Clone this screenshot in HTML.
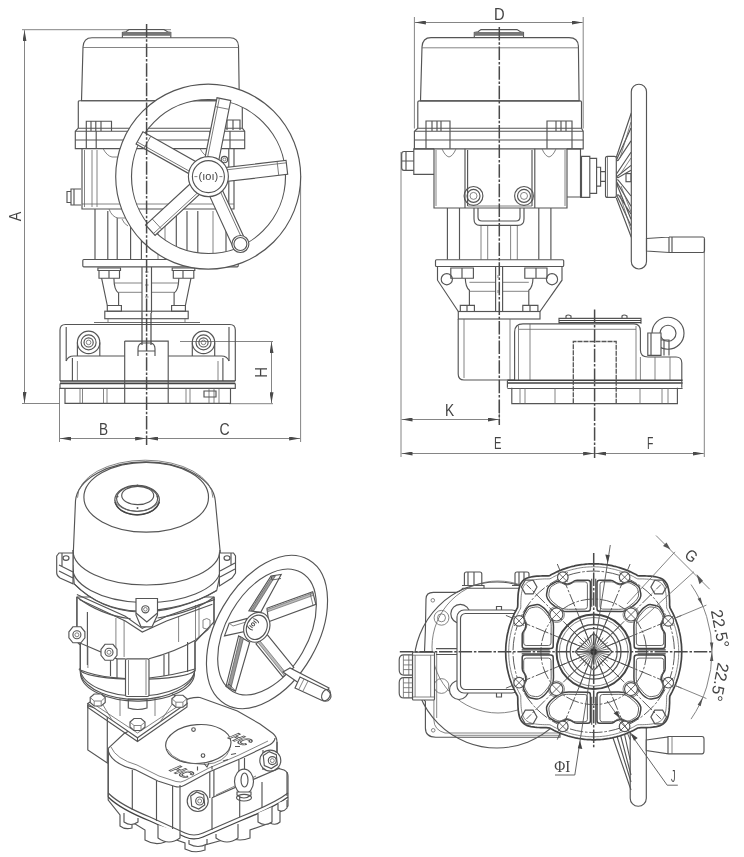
<!DOCTYPE html>
<html><head><meta charset="utf-8"><style>
html,body{margin:0;padding:0;background:#fff;width:744px;height:857px;overflow:hidden}
svg{display:block;will-change:transform}
.s{stroke:#555;stroke-width:1.15;fill:none}
.w{stroke:#555;stroke-width:1.15;fill:#fff}
.t{stroke:#666;stroke-width:.8;fill:none}
.l{stroke:#999;stroke-width:.7;fill:none}
.d{stroke:#777;stroke-width:.9;fill:none}
.c{stroke:#4a4a4a;stroke-width:1.5;fill:none;stroke-dasharray:13.5 1.8 2.5 1.8}
.k{stroke:#444;stroke-width:1.6;fill:none}
.tx{font-family:"Liberation Sans",sans-serif;font-size:16px;fill:#444}
</style></head><body>
<svg width="744" height="857" viewBox="0 0 744 857">
<defs>
<marker id="a" viewBox="0 0 11 4" refX="11" refY="2" markerWidth="11" markerHeight="4" orient="auto-start-reverse" markerUnits="userSpaceOnUse"><path d="M0 0 L11 2 L0 4z" fill="#4a4a4a"/></marker>
</defs>

<!-- ================= TOP-LEFT VIEW ================= -->
<g id="TL">
<!-- dimensions -->
<path class="d" d="M22 29.7H171M22 403.5H60M59.5 388V442M300.6 176V442M180 341.5H273M229 403.7H273"/>
<path class="d" d="M24.5 30.2V403" marker-start="url(#a)" marker-end="url(#a)"/>
<path class="d" d="M60 438.5H146.1" marker-start="url(#a)" marker-end="url(#a)"/>
<path class="d" d="M147.1 438.5H300.1" marker-start="url(#a)" marker-end="url(#a)"/>
<path class="d" d="M271.5 342V403.2" marker-start="url(#a)" marker-end="url(#a)"/>
<text class="tx" transform="translate(20.8 216.35) rotate(-90) scale(.9 1)" text-anchor="middle">A</text>
<text class="tx" transform="translate(103.5 434.8) scale(.85 1)" text-anchor="middle">B</text>
<text class="tx" transform="translate(224.5 434.8) scale(.88 1)" text-anchor="middle">C</text>
<text class="tx" transform="translate(266.8 372.35) rotate(-90) scale(.93 1)" text-anchor="middle">H</text>

<!-- cap -->
<path class="s" d="M122.4 37.7V32.5L126 31.8L129 29.5H164L167.5 31.8L170.8 32.5V37.7"/>
<rect x="122.5" y="32" width="48.3" height="3.8" fill="#777"/>
<!-- cover -->
<path class="s" d="M81.5 100.7L83 47Q83.5 37.7 92 37.7H230Q238 37.7 238.5 46L239.3 100.7Z"/>
<path class="t" d="M83 47.5H238.5"/>
<!-- lower band -->
<path class="s" d="M78.3 128.2V101.5Q78.3 100.7 80 100.7H241Q242.3 100.7 242.3 102V128.2H78.3"/>
<!-- small blocks -->
<path class="s" d="M86.3 131V121.2H111.5V131M91 121.2V131M95.8 121.2V131M101 121.2V131"/>
<path class="s" d="M222 130V120H240V130M227 120V130M233 120V130"/>
<!-- flange -->
<path class="s" d="M78.3 128.2L75.3 131.2V148.6H244.7V131.2L242.3 128.2M75.3 131.2H244.7"/>
<path class="s" d="M75.3 140H244.7M86.3 131V148.6M96.2 131V148.6M210 131V148.6M230 131V148.6"/>
<!-- gearbox body -->
<path class="s" d="M82 148.6V209H234V148.6M228.8 148.6V209"/>
<path class="t" d="M84.5 150V207M92 150V207M97 150V207"/>
<path class="t" d="M103 148.5Q107 156 112 157H118Q123 157 125 148.5"/>
<path class="t" d="M200 148.5Q204 156 209 157H214Q219 157 221 148.5"/>
<path class="t" d="M82 204H234"/>
<!-- left bolt -->
<path class="s" d="M81 189H71V205H81M71 191.5H67V202.5H71M74 189V205"/>
<!-- column -->
<path class="s" d="M95 209V259.5M226 209V259.5"/>
<path class="s" d="M107.8 211V259.5M117.2 218V259.5M130.6 222V259.5M141.4 222V259.5M176.3 211V259.5M187 211V259.5M197.8 211V259.5"/><path class="t" d="M158 215V259M165 215V259M213 211V259"/>
<path class="t" d="M109 209Q112 217 118 218H125"/>
<path class="t" d="M122 219Q124 224 128 226"/>
<!-- plate -->
<rect class="s" x="82.8" y="259.5" width="155.4" height="7.3" rx="1"/>
<!-- nuts -->
<path class="s" d="M97.9 268H120.5V270.5H97.9ZM99 270.5V278.2H119.5V270.5M109 270.5V278.2"/>
<path class="s" d="M172.2 268H194.8V270.5H172.2ZM173.3 270.5V278.2H193.8V270.5M183 270.5V278.2"/>
<!-- legs -->
<path class="s" d="M101.6 278.2L107.3 305.5M113.9 278.2Q114 290 118.6 293V305.5"/>
<path class="s" d="M191 278.2L185.4 305.5M178.8 278.2Q178.7 290 174.1 293V305.5"/>
<path class="t" d="M114 283H142M151.5 283H179M118.6 292.3H142M151.5 292.3H174.1"/>
<!-- shaft -->
<path class="s" d="M142 267V313M151.5 267V313"/>
<path class="t" d="M145 272H148.5M145 285H148.5M145 297H148.5"/>
<!-- lower nuts -->
<path class="s" d="M107.3 305.5H121.4V311.2H107.3ZM171.6 305.5H185.4V311.2H171.6Z"/>
<!-- bracket bottom plate -->
<rect class="s" x="104.8" y="311.2" width="83.4" height="7.5"/>
<path class="t" d="M108 318.7V322.5M185 318.7V322.5"/>
<path class="t" d="M94 322.5H200"/>
<!-- base gearbox -->
<path class="s" d="M60 381V330Q60 324.5 65.5 324.5H229.8Q235.3 324.5 235.3 330V381"/>
<path class="s" d="M66.2 327V361M229 327V361"/>
<path class="s" d="M66.2 361Q68 356 73.7 356H124.7M168.2 356H221.5Q227 356 229 361M72.4 358V381M222.9 358V381"/>
<path class="k" d="M60 381H235.3M60 383.4H235.3"/>
<path class="s" d="M60 383.4V388.4H235.3V383.4"/>
<path class="s" d="M65 388.4V403.3H230.5V388.4"/>
<path class="t" d="M80 388.4V403.3M82.5 388.4V403.3M103.5 388.4V403.3M107 388.4V403.3M186 388.4V403.3M190 388.4V403.3M209 388.4V403.3M214 388.4V403.3M219 388.4V403.3M77.4 361V381M218 361V381"/>
<path class="s" d="M204 391H216V397H204Z"/>
<path class="t" d="M94 322.5H200"/>
<!-- center rect -->
<path class="s" d="M124.7 341.1H168.2V403.3M124.7 341.1V403.3"/>
<path style="stroke:#444" class="s" d="M142 313V345M151 313V345"/>
<path class="s" d="M138 356V349Q138 344 142 343H151Q155 344 155 349V356M138 351H155"/>
<!-- bosses -->
<circle class="s" cx="88.6" cy="342.4" r="11.2"/><circle class="s" cx="88.6" cy="342.4" r="7.5"/><circle class="s" cx="88.6" cy="342.4" r="4.6"/><circle class="t" cx="88.6" cy="342.4" r="2.3"/>
<circle class="s" cx="203.5" cy="342.4" r="11.2"/><circle class="s" cx="203.5" cy="342.4" r="7.5"/><circle class="s" cx="203.5" cy="342.4" r="4.6"/><circle class="t" cx="203.5" cy="342.4" r="2.3"/>
<path class="s" d="M77.4 342.4V356M99.8 342.4V356M192.3 342.4V356M214.7 342.4V356"/>
<!-- handwheel -->
<g>
<path class="w" fill-rule="evenodd" d="M115.7 176.6a92.5 92.5 0 1 0 185 0a92.5 92.5 0 1 0 -185 0ZM131.5 176.5a77 77 0 1 0 154 0a77 77 0 1 0 -154 0Z"/>
<g transform="translate(208.4 176.6)">
 <g transform="rotate(-78.7)"><path class="w" d="M18 -7H79V7H18Z"/><path class="t" d="M70 -7V7M19 -4.6H79"/></g>
 <g transform="rotate(-6.7)"><path class="w" d="M18 -7H79V7H18Z"/><path class="t" d="M70 -7V7M19 -4.6H79"/></g>
 <g transform="rotate(65.3)"><path class="w" d="M18 -7H72V7H18Z"/><path class="t" d="M19 -4.6H72"/></g>
 <g transform="rotate(137.3)"><path class="w" d="M18 -7H79V7H18Z"/><path class="t" d="M70 -7V7M19 -4.6H79"/></g>
 <g transform="rotate(209.3)"><path class="w" d="M18 -7H79V7H18Z"/><path class="t" d="M70 -7V7M19 -4.6H79"/></g>
 <circle class="w" r="20"/><circle class="s" r="16"/>
 <text x="0" y="3.8" text-anchor="middle" font-family="Liberation Sans" font-size="11" fill="#444">(ıoı)</text><path class="t" d="M-14 0H-11M11 0H14"/>
</g>
<circle class="s" cx="224.4" cy="159.5" r="3.2"/><circle class="t" cx="224.4" cy="159.5" r="1.5"/>
<circle class="w" cx="240.4" cy="244" r="8.5"/><circle class="s" cx="240.4" cy="244" r="6.5"/>
</g>
<path class="c" d="M146.6 24V445"/>
</g>

<!-- ================= TOP-RIGHT VIEW ================= -->
<g id="TR">
<!-- dimensions -->
<path class="d" d="M414.4 17V128.5M583.2 17V128.5M401 152V457M704.3 239V457M499.3 400V423"/>
<path class="d" d="M414.9 22.5H582.7" marker-start="url(#a)" marker-end="url(#a)"/>
<path class="d" d="M401.5 419.5H498.8" marker-start="url(#a)" marker-end="url(#a)"/>
<path class="d" d="M401.5 453.5H594.1" marker-start="url(#a)" marker-end="url(#a)"/>
<path class="d" d="M595.1 453.5H703.8" marker-start="url(#a)" marker-end="url(#a)"/>
<text class="tx" transform="translate(499.2 19.9) scale(.92 1)" text-anchor="middle">D</text>
<text class="tx" transform="translate(449.5 415.7) scale(.86 1)" text-anchor="middle">K</text>
<text class="tx" transform="translate(497.8 448.5) scale(.7 1)" text-anchor="middle">E</text>
<text class="tx" transform="translate(650.1 448.5) scale(.65 1)" text-anchor="middle">F</text>
<!-- cap -->
<path class="s" d="M474.3 37.6V32.5L478 31.8L481 29.6H517L520.5 31.8L523.5 32.5V37.6"/>
<rect x="474.4" y="32" width="49" height="3.8" fill="#777"/>
<!-- cover -->
<path class="s" d="M420.5 100.8L422 47Q422.5 37.6 431 37.6H569Q578 37.6 578.4 46L579.1 100.8Z"/>
<path class="t" d="M422 47.8H578.4"/>
<!-- lower band -->
<path class="s" d="M417.8 128.2V102Q417.8 100.8 419.5 100.8H580Q581.5 100.8 581.5 102V128.2H417.8"/>
<path class="s" d="M426 131V121H450V131M432 121V131M437 121V131M441 121V131"/>
<path class="s" d="M547 131V121H572V131M556 121V131M561 121V131M566 121V131"/>
<!-- flange -->
<path class="s" d="M417.8 128.2L414.4 131.2V148.8H583.2V131.2L581.5 128.2M414.4 131.2H583.2"/>
<path class="s" d="M414.4 140H583.2M426 131V148.8M450 131V148.8M547 131V148.8M572 131V148.8"/>
<!-- gearbox body -->
<path class="s" d="M434 148.8V208H567V148.8"/>
<path class="s" d="M465 148.8V208M467.6 150V206M532 150V206M534.8 148.8V208"/>
<path class="t" d="M436 150V206M565 150V206M467.6 206H532"/>
<path class="t" d="M442 148.8Q445 156 449 157Q453 156 456 148.8M542 148.8Q545 156 549 157Q553 156 556 148.8"/>
<!-- left box + gland -->
<path class="s" d="M434 148.8H413.8V174.4H434"/>
<path class="s" d="M413.8 151.5H404Q401.7 151.5 401.7 154V168Q401.7 170.3 404 170.3H413.8M406 151.5V170.3M401.7 161H413.8"/>
<!-- right box + shaft -->
<path class="s" d="M567 148.8H580.5V197H567"/>
<path class="s" d="M580.1 156.3H589.8V197.4H580.1M581.5 156.3V197.4M589.8 158.3H596.6V193.4H589.8M596.6 167.2H600.6V186.1H596.6M600.6 171.6H605.5V181.3H600.6"/>
<!-- bosses -->
<circle class="s" cx="473.5" cy="195.9" r="9.4"/><circle class="s" cx="473.5" cy="195.9" r="6.5"/><circle class="t" cx="473.5" cy="195.9" r="3.5"/>
<circle class="s" cx="524" cy="195.9" r="9.4"/><circle class="s" cx="524" cy="195.9" r="6.5"/><circle class="t" cx="524" cy="195.9" r="3.5"/>
<!-- column -->
<path class="s" d="M447.4 208V259.6M550.9 208V259.6M459.5 208V259.6M538.8 208V259.6"/>
<path class="t" d="M481 225V259.6M487.7 225V259.6M510.6 225V259.6M517.3 225V259.6"/>
<path class="s" d="M474 208V219Q474 225.4 480 225.4H518Q524 225.4 524 219V208M478 208V217Q478 221 482 221H516Q520 221 520 217V208"/>
<!-- plate -->
<rect class="s" x="435.5" y="259.7" width="128.2" height="6.8" rx="1"/>
<!-- bracket -->
<path class="s" d="M437.5 266.5V280.2L458.3 311.5M562 266.5V280.2L540 311.5"/>
<circle class="s" cx="446.8" cy="279.2" r="5.6"/><circle class="s" cx="552" cy="279.2" r="5.6"/>
<path class="s" d="M450.8 268H473.4V278.2H450.8ZM462 268V278.2M524.8 268H547V278.2H524.8ZM536 268V278.2"/>
<path class="s" d="M465.3 278.2Q465.5 287 469.4 290.3V305.4M533 278.2Q532.8 287 528.8 290.3V305.4"/>
<path class="t" d="M469.4 282.3H495.6M502.6 282.3H528.8M469.4 291.3H495.6M502.6 291.3H528.8"/>
<path class="s" d="M460.3 305.4H474.4V311.5H460.3ZM522.8 305.4H537.9V311.5H522.8ZM467 305.4V311.5M530 305.4V311.5"/>
<path class="s" d="M495.6 267V311.5M502.6 267V311.5"/>
<path class="t" d="M498 275V278M498 290V293"/>
<rect class="s" x="458.3" y="311.5" width="81.7" height="7.5"/>
<!-- lower box -->
<path class="s" d="M458.2 319V374Q458.2 380 464 380H514.6"/>
<path class="t" d="M464 319V378M510 319V380"/>
<!-- base gearbox -->
<path class="s" d="M514.6 380V332Q514.6 323.8 523 323.8H634Q640.4 323.8 640.4 331V350Q640.4 357 648 357H676Q681.8 357 681.8 363V380.3"/>
<path class="t" d="M518.5 326V380M530 324V380M636 326V380M640.4 357V380.3M655 357V380.3M670 357V380.3"/>
<path class="s" d="M559 323.8V318.4H641V323.8M566 318.4V316Q568 314 571 316V318.4M622 318.4V316Q624 314 627 316V318.4"/><path class="k" style="stroke-width:1.2" d="M559 320.5H641M559 322.6H641"/><path class="t" d="M519 329.3H636"/>
<path class="k" d="M507.4 380.3H682.6M507.4 383H682.6"/><path class="s" d="M507.4 388.5H682.6"/>
<path class="s" d="M507.4 380.8V387.7M681.8 380.8V387.7"/>
<path class="s" d="M511.8 387.7V403.6H677.4V387.7"/>
<path class="t" d="M520 388V403.6M525 388V403.6M555 388V403.6M640 388V403.6M662 388V403.6M668 388V403.6"/>
<path style="stroke-dasharray:5 1;stroke-width:1.3" class="s" d="M573.3 403.3V341.5H616.2V403.3"/>
<!-- eye bolt -->
<circle class="s" cx="668" cy="333.2" r="16"/><circle class="w" cx="668" cy="333.2" r="8"/>
<path class="w" d="M647.8 333H661V355.4H647.8Z"/>
<path class="s" d="M651 333V355.4M661 340H669V355.4M664 340V355.4"/>
<!-- handwheel side -->
<path class="s" d="M616.3 157.2L631.3 113M616.3 198L631.3 237.3"/>
<path class="s" d="M631 127.9L616.8 159.2Q616.5 161 618 160.5L631 140.9M631 152.3L616.5 174Q615.8 177.5 618 177.7L631 170.3M631 165.4L617 176.5"/>
<path class="s" d="M631 206.2L616.5 181.5Q616 179 618 180L631 196M631 219.3L616.5 183.5M631 225.8L617.3 196.4Q616.5 194.5 618.5 195L631 214"/>
<path class="t" d="M620 158L631 122M621 173L631 158M621 186L631 212M620 195L631 230"/>
<rect class="w" x="605.5" y="156.3" width="10.8" height="41.1" rx="2"/><path class="t" d="M607.5 157V197"/>
<rect class="s" x="626" y="173.6" width="5" height="8.1"/>
<rect class="w" x="631.3" y="84.2" width="15.2" height="184.8" rx="7.6"/>
<path class="s" d="M646.5 238.5L669 237V252.5L646.5 251ZM669 237H703Q704.5 237 704.5 239V250.5Q704.5 252.5 703 252.5H669M672 237V252.5"/>
<path class="c" d="M499.3 27V425"/>
<path class="c" d="M594.6 309.6V458"/>
</g>

<!-- ================= BOTTOM-LEFT ISO VIEW ================= -->
<g id="BL">
<!-- base gearbox (drawn first, behind) -->
<path class="w" d="M108.2 748.4L123.8 733.8L183 701.5Q190 697 200 697.5L237.4 711L260 724L273 733.5Q277 737 277 742V768L284 770Q288 772 288 776V806L280 812V822Q276 826 270 823L250 830V838Q240 842 230 838L205 845V850Q195 854 185 849V843L165 836V842Q155 846 145 840V830L132 822V828Q125 830 120 826V815L108.2 800Z"/>
<!-- top-left/front rounded edge -->
<path class="s" d="M108.2 750.8Q112 764 135 769.6L157.8 781L175 786.5Q180 788 185 785L209 772L239.7 759L270.3 744.5Q275 741 275 738"/>
<path class="t" d="M111 747Q116 759 137 765L159 776L176 781.5Q181 783 185 780.5L209 768L239 755L268 741"/>
<path class="s" d="M108.2 793Q120 805 150 817L185 833Q194 837 203 833L240 817Q275 803 288 793"/>
<path style="stroke-width:1.3" class="k" d="M108.2 797Q120 809 150 821L185 837Q194 841 203 837L240 821Q275 807 288 797"/>
<path class="s" d="M108.2 748.4V797M132.3 770V810M156.5 781V821M172.6 786V829M180 785V832M209.8 772V798M213.9 770V797M238.9 760V780M244.5 758V781M263 750V770"/>
<path class="s" d="M212 797.7L255.8 778.4L280 768M212 797.7V830M239.7 790V817M262 782V808M277 742V768M287 772V796"/>
<path class="t" d="M216 795L256 776"/>
<!-- feet -->
<path class="w" d="M124 813V822Q131 827 138 822V818"/>
<path class="w" d="M158 825V838Q169 846 180 838V832"/>
<path class="w" d="M189 840V844Q198 849 207 844V839"/>
<path class="w" d="M216 834V838Q227 846 238 838V824"/>
<path class="w" d="M258 813V822Q265 827 272 822V807"/>
<path class="w" d="M278 803V810Q283 813 287 808V800"/>
<!-- round plate -->
<ellipse class="w" cx="198.3" cy="744" rx="32.7" ry="19.4" transform="rotate(-4 198.3 744)"/>
<path class="t" d="M167 749Q175 764 205 764.5Q225 763 230 749"/>
<circle class="s" cx="193.5" cy="729.5" r="1.8"/><circle class="s" cx="203" cy="755.5" r="1.8"/>
<path class="s" d="M204 763.5L207 767L209 763"/>
<text x="0" y="0" transform="translate(227 737.5) rotate(27) skewX(-40)" font-family="Liberation Sans" font-size="13" font-weight="bold" fill="#fff" stroke="#555" stroke-width="1">HC</text>
<text x="0" y="0" transform="translate(168.5 770) rotate(27) skewX(-40)" font-family="Liberation Sans" font-size="13" font-weight="bold" fill="#fff" stroke="#555" stroke-width="1">HC</text>
<path class="s" d="M235 746.5H240M231 754.5L236 753.5M223 761L228 759.5M197.5 766.6V770.6M212 766V769.5"/>
<!-- nuts on base -->
<g transform="translate(197.7 801)"><circle class="w" r="10.5"/><path class="s" d="M-7 -5L-1 -9L6 -6L7 4L1 8L-6 5Z"/><circle class="s" cx="2" r="4"/><circle class="t" cx="2" r="2"/></g>
<g transform="translate(270.3 760.6)"><circle class="w" r="10.5"/><path class="s" d="M-7 -5L-1 -9L6 -6L7 4L1 8L-6 5Z"/><circle class="s" cx="2" r="4"/><circle class="t" cx="2" r="2"/></g>
<!-- eye bolt -->
<ellipse class="w" cx="244" cy="781.6" rx="9.5" ry="12.5"/><ellipse class="s" cx="244.5" cy="780" rx="3.5" ry="7"/>
<path class="w" d="M237 795Q244 801 251 795V792H237Z"/><ellipse class="s" cx="244" cy="797.7" rx="7.5" ry="3.3"/>
<!-- lower box under bracket -->
<path class="w" d="M87.8 705.6V750L107.3 763V712Z"/>
<!-- bracket diamond -->
<path class="w" d="M87.8 703.6L137.5 672L187 703L137.5 737.7Z"/>
<path class="s" d="M87.8 703.6V707.5L137.5 741.5L187 707V703M137.5 737.7V741.5"/>
<path class="t" d="M93 703.6L137.5 733L182 703.5"/>
<path class="t" d="M100 700L112 720M175 700L160 722M120 688V716M155 688V716"/>
<g transform="translate(137.5 724)"><path class="w" d="M-7.5 -2L-3.5 -5.5H3.5L7.5 -2V3L3.5 6.5H-3.5L-7.5 3Z"/><path class="t" d="M-7.5 -2L-3.5 1.5H3.5L7.5 -2M-3.5 1.5V6.5M3.5 1.5V6.5"/></g>
<g transform="translate(179.4 700.7)"><path class="w" d="M-7.5 -2L-3.5 -5.5H3.5L7.5 -2V3L3.5 6.5H-3.5L-7.5 3Z"/><path class="t" d="M-7.5 -2L-3.5 1.5H3.5L7.5 -2M-3.5 1.5V6.5M3.5 1.5V6.5"/></g>
<!-- neck + disc -->
<path class="w" d="M79.4 669Q80 668 80.6 674.8A57.5 30 0 0 0 194.5 672L195 669Z"/>
<path class="s" d="M80.3 670A57.5 28 0 0 0 195 670M80.6 674.8A57 28 0 0 0 194.5 673"/>
<!-- body -->
<path class="w" d="M76.9 597V641.7L80.3 645V670A57.5 10 0 0 0 195 670V642L214 622V597Z"/>
<path class="s" d="M80.3 670Q95 676 113.3 677.6L125.5 678.5M149 678Q175 675 195 669"/>
<path class="s" d="M76.9 597V641.7L117 658.8H125.5M149 658.8Q175 652 194.8 640.6L208.5 629M214 597V625"/>
<rect class="w" x="125.5" y="658.8" width="23.5" height="37.7" rx="1.5"/>
<path class="t" d="M128.5 660V695M146 660V695"/>
<path class="s" d="M80.3 643V670M195 641V669M87.4 612V665M110.5 654V676M117 659V678M164 655V676M168.8 653V675M187.6 642V672"/>
<path class="t" d="M115.9 618V655M124.1 620V657M178.6 616V642M87.9 646V668M195.5 605V640M199 604V638"/>
<path class="s" d="M76.9 594.5L125.3 616.3L142.3 628.4L166.5 616.3L214.9 599.4M79.4 599.4L125.3 621.1L142.3 632L166.5 621L212.4 604.2"/>
<path class="t" d="M203 620Q207 617 210 620V628Q207 630 203 628Z"/>
<path class="s" d="M128.3 699H147V708Q137.7 711 128.3 708Z"/>
<g transform="translate(97.7 699.5)"><path class="w" d="M-7.5 -2L-3.5 -5.5H3.5L7.5 -2V3L3.5 6.5H-3.5L-7.5 3Z"/><path class="t" d="M-7.5 -2L-3.5 1.5H3.5L7.5 -2M-3.5 1.5V6.5M3.5 1.5V6.5"/></g>
<!-- cover -->
<path class="w" d="M75.5 500.7A70 41 0 0 1 215.3 500.7L220 550L221 570L216.7 590.5Q180 612 138.7 612Q100 610 74.2 583.8L72.8 565Z"/>
<ellipse class="s" cx="146.2" cy="497.2" rx="62.3" ry="34.9"/>
<path class="t" d="M77.5 497.7A67.7 37.5 0 0 1 212.9 497.7"/>
<path class="s" d="M72.8 550A73.5 35 0 0 0 220 550M72.8 565A74 35 0 0 0 220.7 570"/>
<path class="s" d="M74.2 583.8Q100 610 138.7 611Q185 610 216.7 590.5"/>
<path class="s" d="M76.9 597Q100 615 130.6 618.7M157.5 618Q195 612 214 597"/>
<!-- ears -->
<path class="w" d="M56.7 556L59 553H73V583.8L60 578Q56.7 576 56.7 573Z"/>
<path class="s" d="M59 565L73 572M59 571L73 578M62 553V566"/>
<ellipse class="s" cx="66" cy="558" rx="3" ry="2.3"/>
<path class="w" d="M219.4 553H233.5L235.5 556V573L232 578L219.4 586Z"/>
<path class="s" d="M220 571L235 563M220 577L235 569M231 553V565"/>
<ellipse class="s" cx="227" cy="558" rx="3" ry="2.3"/>
<path class="w" d="M136 598.5H157.5V615L152 626.8H141L136 615Z"/>
<circle class="s" cx="145.4" cy="609.3" r="3.6"/><circle class="t" cx="145.4" cy="609.3" r="1.8"/>
<path class="s" d="M136 613L146.8 622L157.5 613"/>
<!-- cap -->
<ellipse class="w" cx="137.1" cy="500" rx="22.3" ry="14.8"/>
<ellipse class="s" cx="137.1" cy="498.5" rx="20.5" ry="12.8"/>
<ellipse class="s" cx="137.7" cy="495.5" rx="16" ry="9.2"/>
<path style="stroke-width:1.3" class="k" d="M115 502Q119 514 137.1 514.8Q155 514 159.4 502"/>
<path class="t" d="M114.8 500Q118 510 137.1 511.5Q156 510 159.4 500"/>
<circle fill="#555" cx="137.5" cy="485.5" r="1"/><circle fill="#555" cx="117.5" cy="496.5" r="1"/><circle fill="#555" cx="157.5" cy="496.5" r="1"/><circle fill="#555" cx="137.5" cy="508" r="1"/>
<!-- nuts on body -->
<g transform="translate(76.9 634.8)"><path class="w" d="M-8 -3L-4 -8H4L8 -3V3L4 8H-4L-8 3Z"/><circle class="s" r="4"/><circle class="t" r="2"/></g>
<g transform="translate(109 652.3)"><path class="w" d="M-8 -3L-4 -8H4L8 -3V3L4 8H-4L-8 3Z"/><circle class="s" r="4"/><circle class="t" r="2"/></g>
<!-- wheel -->
<g transform="translate(267 632) rotate(-60)">
<path class="w" fill-rule="evenodd" d="M-83.3 0A83.3 50.7 0 1 0 83.3 0A83.3 50.7 0 1 0 -83.3 0ZM-68.6 0A68.6 40.9 0 1 0 68.6 0A68.6 40.9 0 1 0 -68.6 0Z"/>
</g>
<path class="w" d="M267 608.3L312.7 591.8L315.9 604.4L268.6 621.7Z"/>
<path fill="#bbb" stroke="#555" stroke-width=".6" d="M267.2 609.5L313 592.9L313.5 595.3L267.6 611.8Z"/><path class="t" d="M310 592.8L313 605.3"/>
<path class="w" d="M248.9 610.7L271 576L281.2 574.5L260.7 612.3Z"/>
<path fill="#999" stroke="#444" stroke-width=".6" d="M250.5 610.3L272.3 576.2L275.5 575.8L253.6 610.8Z"/><path style="stroke:#444" class="t" d="M271 576L272 580L281 578.5"/>
<path class="w" d="M246.5 618.6L229.2 623.3L224.5 635.9L245.7 631.2Z"/>
<path class="t" d="M229.2 623.3L233 626L246 622"/>
<path class="w" d="M238.6 635.9L226 686.4L235.5 691.1L249.7 642.2Z"/>
<path fill="#999" stroke="#444" stroke-width=".6" d="M240.3 636.6L227.6 687.2L230.8 688.7L243.5 638.2Z"/><path style="stroke:#444" class="t" d="M226 686.4L229 684L235.5 691.1"/>
<path class="w" d="M256 643.8L282.8 676.9L293.8 667.4L267 634.3Z"/>
<path fill="#bbb" stroke="#555" stroke-width=".6" d="M257.5 642L284.3 675.6L286.5 673.7L259.7 640.5Z"/>
<ellipse class="w" cx="256.8" cy="627.3" rx="12.6" ry="15.4" transform="rotate(25 256.8 627.3)"/>
<ellipse class="s" cx="256.8" cy="627.3" rx="10" ry="12.6" transform="rotate(25 256.8 627.3)"/>
<text x="0" y="0" transform="translate(250.5 630.5) rotate(-50) scale(1 1.1)" font-family="Liberation Sans" font-size="7" font-weight="bold" fill="#444">(ıoı)</text>
<path class="w" d="M283 672L290 668L329 688L323 700Z"/>
<path class="w" d="M300 677L327 690Q333 694 330 699Q327 703 321 700L295 688Z"/>
<path class="t" d="M304 679L299 689M308 681L303 691"/>
<ellipse class="s" cx="326" cy="695" rx="4" ry="6" transform="rotate(25 326 695)"/>
</g>

<!-- ================= BOTTOM-RIGHT VIEW ================= -->
<g id="BR">
<rect class="w" x="630.2" y="700" width="16.1" height="106.2" rx="8"/>
<path class="s" d="M612 735L631 790M616 733L631 782M620 733L631 775M624 732L630.2 760"/>
<path class="w" d="M646.3 740L668 737V753.8L646.3 750.5ZM668 736.5H702Q704 736.5 704 739V751Q704 753.8 702 753.8H668Z"/>
<path class="t" d="M672 736.5V753.8"/>
<path class="w" d="M426 599Q426 592.3 433.4 592.3H456.3Q459 592.3 463 588.2H560V737.2H435.8Q425.4 737.2 425.4 728V701.4L424.5 700.5V652L425.4 630Z"/>
<path class="t" d="M433.9 655V720Q434 730 445 733H560M436.7 652V718M452.7 735.3H560"/>
<circle class="t" cx="432.8" cy="600.3" r="1.8"/><circle class="t" cx="433.2" cy="730.3" r="1.8"/>
<path class="s" d="M464.4 585.5V574Q464.4 572 466.5 572H479.8Q481.8 572 481.8 574V585.5ZM468 572V585.5M474 572V585.5M462 585.5H484V588.2"/>
<path class="s" d="M515 585.5V574Q515 572 517 572H527Q529 572 529 574V585.5ZM519 572V585.5M524 572V585.5M512 585.5H531V588.2"/>
<circle class="s" cx="497" cy="665" r="83"/>
<circle class="t" cx="498" cy="647" r="66"/>
<circle class="w" cx="460.3" cy="613.8" r="9.5"/><circle class="t" cx="441.5" cy="617.8" r="7.4"/><circle class="t" cx="441.5" cy="617.8" r="4"/>
<circle class="w" cx="459" cy="690" r="9.5"/><circle class="t" cx="441.5" cy="686" r="7.4"/>
<rect class="w" x="457" y="610" width="62" height="83" rx="7"/>
<rect class="s" x="460.5" y="613.5" width="58" height="76" rx="5"/>
<path class="s" d="M496.5 610V606.5H501.5V610M496.5 693V697H501.5V693"/>
<path class="s" d="M436 648.6H457M436 654.5H457"/>
<path class="t" d="M440 651.5H452"/>
<rect class="w" x="412.5" y="652.1" width="22" height="47.9" rx="1"/>
<path class="t" d="M412.5 655.2H434.5M412.5 697H434.5M415.1 655.2V697M430.7 655.2V697"/>
<path class="w" d="M412.5 654.8H404Q399.2 654.8 399.2 659.8V670.0999999999999Q399.2 675.0999999999999 404 675.0999999999999H412.5Z"/>
<path class="t" d="M403.4 655.3V674.5999999999999M408.8 654.8V675.0999999999999M403.4 660.0999999999999H412.5M403.4 664.9H412.5M403.4 669.5999999999999H412.5"/>
<path class="w" d="M412.5 677.6H404Q399.2 677.6 399.2 682.6V692.9Q399.2 697.9 404 697.9H412.5Z"/>
<path class="t" d="M403.4 678.1V697.4M408.8 677.6V697.9M403.4 682.9H412.5M403.4 687.7H412.5M403.4 692.4H412.5"/>
<path style="stroke-width:1.7;stroke:#444" class="w" d="M681.7 651.8 L681.7 653.3 L681.6 654.9 L681.6 656.4 L681.5 657.9 L681.4 659.5 L681.2 661.0 L681.0 662.5 L680.8 664.0 L680.6 665.6 L680.4 667.1 L680.1 668.6 L679.8 670.1 L679.4 671.6 L679.1 673.1 L678.7 674.6 L678.3 676.1 L677.9 677.5 L677.4 679.0 L676.9 680.4 L676.4 681.9 L675.9 683.3 L675.3 684.8 L674.7 686.2 L674.1 687.6 L673.5 689.0 L672.8 690.4 L672.1 691.8 L671.4 693.1 L670.7 694.5 L669.9 695.8 L669.7 697.4 L669.6 699.2 L669.6 701.1 L669.6 703.0 L669.5 704.9 L669.4 706.8 L669.3 708.7 L669.1 710.7 L668.8 712.6 L668.5 714.6 L668.0 716.4 L667.5 718.2 L666.7 719.9 L665.7 721.4 L664.6 722.7 L663.3 723.8 L661.8 724.8 L660.1 725.6 L658.3 726.1 L656.5 726.6 L654.5 726.9 L652.6 727.2 L650.6 727.4 L648.7 727.5 L646.8 727.6 L644.9 727.7 L643.0 727.7 L641.1 727.7 L639.3 727.8 L637.7 728.0 L636.4 728.8 L635.0 729.5 L633.7 730.2 L632.3 730.9 L630.9 731.6 L629.5 732.2 L628.1 732.8 L626.7 733.4 L625.2 734.0 L623.8 734.5 L622.3 735.0 L620.9 735.5 L619.4 736.0 L618.0 736.4 L616.5 736.8 L615.0 737.2 L613.5 737.5 L612.0 737.9 L610.5 738.2 L609.0 738.5 L607.5 738.7 L605.9 738.9 L604.4 739.1 L602.9 739.3 L601.4 739.5 L599.8 739.6 L598.3 739.7 L596.8 739.7 L595.2 739.8 L593.7 739.8 L592.2 739.8 L590.6 739.7 L589.1 739.7 L587.6 739.6 L586.0 739.5 L584.5 739.3 L583.0 739.1 L581.5 738.9 L579.9 738.7 L578.4 738.5 L576.9 738.2 L575.4 737.9 L573.9 737.5 L572.4 737.2 L570.9 736.8 L569.4 736.4 L568.0 736.0 L566.5 735.5 L565.1 735.0 L563.6 734.5 L562.2 734.0 L560.7 733.4 L559.3 732.8 L557.9 732.2 L556.5 731.6 L555.1 730.9 L553.7 730.2 L552.4 729.5 L551.0 728.8 L549.7 728.0 L548.1 727.8 L546.3 727.7 L544.4 727.7 L542.5 727.7 L540.6 727.6 L538.7 727.5 L536.8 727.4 L534.8 727.2 L532.9 726.9 L530.9 726.6 L529.1 726.1 L527.3 725.6 L525.6 724.8 L524.1 723.8 L522.8 722.7 L521.7 721.4 L520.7 719.9 L519.9 718.2 L519.4 716.4 L518.9 714.6 L518.6 712.6 L518.3 710.7 L518.1 708.7 L518.0 706.8 L517.9 704.9 L517.8 703.0 L517.8 701.1 L517.8 699.2 L517.7 697.4 L517.5 695.8 L516.7 694.5 L516.0 693.1 L515.3 691.8 L514.6 690.4 L513.9 689.0 L513.3 687.6 L512.7 686.2 L512.1 684.8 L511.5 683.3 L511.0 681.9 L510.5 680.4 L510.0 679.0 L509.5 677.5 L509.1 676.1 L508.7 674.6 L508.3 673.1 L508.0 671.6 L507.6 670.1 L507.3 668.6 L507.0 667.1 L506.8 665.6 L506.6 664.0 L506.4 662.5 L506.2 661.0 L506.0 659.5 L505.9 657.9 L505.8 656.4 L505.8 654.9 L505.7 653.3 L505.7 651.8 L505.7 650.3 L505.8 648.7 L505.8 647.2 L505.9 645.7 L506.0 644.1 L506.2 642.6 L506.4 641.1 L506.6 639.6 L506.8 638.0 L507.0 636.5 L507.3 635.0 L507.6 633.5 L508.0 632.0 L508.3 630.5 L508.7 629.0 L509.1 627.5 L509.5 626.1 L510.0 624.6 L510.5 623.2 L511.0 621.7 L511.5 620.3 L512.1 618.8 L512.7 617.4 L513.3 616.0 L513.9 614.6 L514.6 613.2 L515.3 611.8 L516.0 610.5 L516.7 609.1 L517.5 607.8 L517.7 606.2 L517.8 604.4 L517.8 602.5 L517.8 600.6 L517.9 598.7 L518.0 596.8 L518.1 594.9 L518.3 592.9 L518.6 591.0 L518.9 589.0 L519.4 587.2 L519.9 585.4 L520.7 583.7 L521.7 582.2 L522.8 580.9 L524.1 579.8 L525.6 578.8 L527.3 578.0 L529.1 577.5 L530.9 577.0 L532.9 576.7 L534.8 576.4 L536.8 576.2 L538.7 576.1 L540.6 576.0 L542.5 575.9 L544.4 575.9 L546.3 575.9 L548.1 575.8 L549.7 575.6 L551.0 574.8 L552.4 574.1 L553.7 573.4 L555.1 572.7 L556.5 572.0 L557.9 571.4 L559.3 570.8 L560.7 570.2 L562.2 569.6 L563.6 569.1 L565.1 568.6 L566.5 568.1 L568.0 567.6 L569.4 567.2 L570.9 566.8 L572.4 566.4 L573.9 566.1 L575.4 565.7 L576.9 565.4 L578.4 565.1 L579.9 564.9 L581.5 564.7 L583.0 564.5 L584.5 564.3 L586.0 564.1 L587.6 564.0 L589.1 563.9 L590.6 563.9 L592.2 563.8 L593.7 563.8 L595.2 563.8 L596.8 563.9 L598.3 563.9 L599.8 564.0 L601.4 564.1 L602.9 564.3 L604.4 564.5 L605.9 564.7 L607.5 564.9 L609.0 565.1 L610.5 565.4 L612.0 565.7 L613.5 566.1 L615.0 566.4 L616.5 566.8 L618.0 567.2 L619.4 567.6 L620.9 568.1 L622.3 568.6 L623.8 569.1 L625.2 569.6 L626.7 570.2 L628.1 570.8 L629.5 571.4 L630.9 572.0 L632.3 572.7 L633.7 573.4 L635.0 574.1 L636.4 574.8 L637.7 575.6 L639.3 575.8 L641.1 575.9 L643.0 575.9 L644.9 575.9 L646.8 576.0 L648.7 576.1 L650.6 576.2 L652.6 576.4 L654.5 576.7 L656.5 577.0 L658.3 577.5 L660.1 578.0 L661.8 578.8 L663.3 579.8 L664.6 580.9 L665.7 582.2 L666.7 583.7 L667.5 585.4 L668.0 587.2 L668.5 589.0 L668.8 591.0 L669.1 592.9 L669.3 594.9 L669.4 596.8 L669.5 598.7 L669.6 600.6 L669.6 602.5 L669.6 604.4 L669.7 606.2 L669.9 607.8 L670.7 609.1 L671.4 610.5 L672.1 611.8 L672.8 613.2 L673.5 614.6 L674.1 616.0 L674.7 617.4 L675.3 618.8 L675.9 620.3 L676.4 621.7 L676.9 623.2 L677.4 624.6 L677.9 626.1 L678.3 627.5 L678.7 629.0 L679.1 630.5 L679.4 632.0 L679.8 633.5 L680.1 635.0 L680.4 636.5 L680.6 638.0 L680.8 639.6 L681.0 641.1 L681.2 642.6 L681.4 644.1 L681.5 645.7 L681.6 647.2 L681.6 648.7 L681.7 650.3Z"/>
<path class="t" d="M678.7 651.8 L678.7 653.3 L678.6 654.8 L678.6 656.2 L678.5 657.7 L678.4 659.2 L678.2 660.7 L678.1 662.2 L677.9 663.6 L677.7 665.1 L677.4 666.6 L677.1 668.0 L676.8 669.5 L676.5 670.9 L676.2 672.4 L675.8 673.8 L675.4 675.2 L675.0 676.7 L674.5 678.1 L674.1 679.5 L673.6 680.9 L673.1 682.3 L672.5 683.6 L671.9 685.0 L671.4 686.4 L670.7 687.7 L670.1 689.1 L669.4 690.4 L668.8 691.7 L668.0 693.0 L667.3 694.3 L666.7 695.6 L666.6 697.4 L666.6 699.1 L666.6 700.9 L666.5 702.8 L666.4 704.6 L666.3 706.5 L666.1 708.4 L665.9 710.2 L665.5 712.1 L665.1 713.9 L664.5 715.6 L663.8 717.2 L662.9 718.6 L661.8 719.9 L660.5 721.0 L659.1 721.9 L657.5 722.6 L655.8 723.2 L654.0 723.6 L652.1 724.0 L650.3 724.2 L648.4 724.4 L646.5 724.5 L644.7 724.6 L642.8 724.7 L641.0 724.7 L639.3 724.7 L637.5 724.8 L636.2 725.4 L634.9 726.1 L633.6 726.9 L632.3 727.5 L631.0 728.2 L629.6 728.8 L628.3 729.5 L626.9 730.0 L625.5 730.6 L624.2 731.2 L622.8 731.7 L621.4 732.2 L620.0 732.6 L618.6 733.1 L617.1 733.5 L615.7 733.9 L614.3 734.3 L612.8 734.6 L611.4 734.9 L609.9 735.2 L608.5 735.5 L607.0 735.8 L605.5 736.0 L604.1 736.2 L602.6 736.3 L601.1 736.5 L599.6 736.6 L598.1 736.7 L596.7 736.7 L595.2 736.8 L593.7 736.8 L592.2 736.8 L590.7 736.7 L589.3 736.7 L587.8 736.6 L586.3 736.5 L584.8 736.3 L583.3 736.2 L581.9 736.0 L580.4 735.8 L578.9 735.5 L577.5 735.2 L576.0 734.9 L574.6 734.6 L573.1 734.3 L571.7 733.9 L570.3 733.5 L568.8 733.1 L567.4 732.6 L566.0 732.2 L564.6 731.7 L563.2 731.2 L561.9 730.6 L560.5 730.0 L559.1 729.5 L557.8 728.8 L556.4 728.2 L555.1 727.5 L553.8 726.9 L552.5 726.1 L551.2 725.4 L549.9 724.8 L548.1 724.7 L546.4 724.7 L544.6 724.7 L542.7 724.6 L540.9 724.5 L539.0 724.4 L537.1 724.2 L535.3 724.0 L533.4 723.6 L531.6 723.2 L529.9 722.6 L528.3 721.9 L526.9 721.0 L525.6 719.9 L524.5 718.6 L523.6 717.2 L522.9 715.6 L522.3 713.9 L521.9 712.1 L521.5 710.2 L521.3 708.4 L521.1 706.5 L521.0 704.6 L520.9 702.8 L520.8 700.9 L520.8 699.1 L520.8 697.4 L520.7 695.6 L520.1 694.3 L519.4 693.0 L518.6 691.7 L518.0 690.4 L517.3 689.1 L516.7 687.7 L516.0 686.4 L515.5 685.0 L514.9 683.6 L514.3 682.3 L513.8 680.9 L513.3 679.5 L512.9 678.1 L512.4 676.7 L512.0 675.2 L511.6 673.8 L511.2 672.4 L510.9 670.9 L510.6 669.5 L510.3 668.0 L510.0 666.6 L509.7 665.1 L509.5 663.6 L509.3 662.2 L509.2 660.7 L509.0 659.2 L508.9 657.7 L508.8 656.2 L508.8 654.8 L508.7 653.3 L508.7 651.8 L508.7 650.3 L508.8 648.8 L508.8 647.4 L508.9 645.9 L509.0 644.4 L509.2 642.9 L509.3 641.4 L509.5 640.0 L509.7 638.5 L510.0 637.0 L510.3 635.6 L510.6 634.1 L510.9 632.7 L511.2 631.2 L511.6 629.8 L512.0 628.4 L512.4 626.9 L512.9 625.5 L513.3 624.1 L513.8 622.7 L514.3 621.3 L514.9 620.0 L515.5 618.6 L516.0 617.2 L516.7 615.9 L517.3 614.5 L518.0 613.2 L518.6 611.9 L519.4 610.6 L520.1 609.3 L520.7 608.0 L520.8 606.2 L520.8 604.5 L520.8 602.7 L520.9 600.8 L521.0 599.0 L521.1 597.1 L521.3 595.2 L521.5 593.4 L521.9 591.5 L522.3 589.7 L522.9 588.0 L523.6 586.4 L524.5 585.0 L525.6 583.7 L526.9 582.6 L528.3 581.7 L529.9 581.0 L531.6 580.4 L533.4 580.0 L535.3 579.6 L537.1 579.4 L539.0 579.2 L540.9 579.1 L542.7 579.0 L544.6 578.9 L546.4 578.9 L548.1 578.9 L549.9 578.8 L551.2 578.2 L552.5 577.5 L553.8 576.7 L555.1 576.1 L556.4 575.4 L557.8 574.8 L559.1 574.1 L560.5 573.6 L561.9 573.0 L563.2 572.4 L564.6 571.9 L566.0 571.4 L567.4 571.0 L568.8 570.5 L570.3 570.1 L571.7 569.7 L573.1 569.3 L574.6 569.0 L576.0 568.7 L577.5 568.4 L578.9 568.1 L580.4 567.8 L581.9 567.6 L583.3 567.4 L584.8 567.3 L586.3 567.1 L587.8 567.0 L589.3 566.9 L590.7 566.9 L592.2 566.8 L593.7 566.8 L595.2 566.8 L596.7 566.9 L598.1 566.9 L599.6 567.0 L601.1 567.1 L602.6 567.3 L604.1 567.4 L605.5 567.6 L607.0 567.8 L608.5 568.1 L609.9 568.4 L611.4 568.7 L612.8 569.0 L614.3 569.3 L615.7 569.7 L617.1 570.1 L618.6 570.5 L620.0 571.0 L621.4 571.4 L622.8 571.9 L624.2 572.4 L625.5 573.0 L626.9 573.6 L628.3 574.1 L629.6 574.8 L631.0 575.4 L632.3 576.1 L633.6 576.7 L634.9 577.5 L636.2 578.2 L637.5 578.8 L639.3 578.9 L641.0 578.9 L642.8 578.9 L644.7 579.0 L646.5 579.1 L648.4 579.2 L650.3 579.4 L652.1 579.6 L654.0 580.0 L655.8 580.4 L657.5 581.0 L659.1 581.7 L660.5 582.6 L661.8 583.7 L662.9 585.0 L663.8 586.4 L664.5 588.0 L665.1 589.7 L665.5 591.5 L665.9 593.4 L666.1 595.2 L666.3 597.1 L666.4 599.0 L666.5 600.8 L666.6 602.7 L666.6 604.5 L666.6 606.2 L666.7 608.0 L667.3 609.3 L668.0 610.6 L668.8 611.9 L669.4 613.2 L670.1 614.5 L670.7 615.9 L671.4 617.2 L671.9 618.6 L672.5 620.0 L673.1 621.3 L673.6 622.7 L674.1 624.1 L674.5 625.5 L675.0 626.9 L675.4 628.4 L675.8 629.8 L676.2 631.2 L676.5 632.7 L676.8 634.1 L677.1 635.6 L677.4 637.0 L677.7 638.5 L677.9 640.0 L678.1 641.4 L678.2 642.9 L678.4 644.4 L678.5 645.9 L678.6 647.4 L678.6 648.8 L678.7 650.3Z"/>
<path style="stroke-width:1.2" class="s" d="M537.0 587.0 L533.1 593.8 L525.3 593.8 L521.4 587.0 L525.3 580.2 L533.1 580.2Z"/>
<path style="stroke-width:1.2" class="s" d="M666.5 587.0 L662.6 593.8 L654.8 593.8 L650.9 587.0 L654.8 580.2 L662.6 580.2Z"/>
<path style="stroke-width:1.2" class="s" d="M537.0 717.0 L533.1 723.8 L525.3 723.8 L521.4 717.0 L525.3 710.2 L533.1 710.2Z"/>
<path style="stroke-width:1.2" class="s" d="M666.5 717.0 L662.6 723.8 L654.8 723.8 L650.9 717.0 L654.8 710.2 L662.6 710.2Z"/>
<path style="stroke-width:1.5;stroke:#444" class="s" d="M599.5 611.3 L599.5 611.3 Q597.0 611.3 597.0 608.8 L597.0 582.8 Q597.0 580.3 599.5 580.3 L610.2 580.3 Q612.7 580.3 614.5 581.8 L614.5 581.8 Q616.2 583.3 618.7 583.7 L619.2 583.9 Q621.7 584.3 623.8 583.0 L624.6 582.6 Q626.7 581.3 628.7 581.3 L628.7 581.3 Q630.7 581.3 632.9 582.6 L637.1 585.1 Q639.3 586.4 639.8 588.9 L640.8 594.0 Q641.3 596.5 639.9 598.6 L638.7 600.4 Q637.3 602.5 635.3 604.1 L629.2 608.9 Q627.2 610.5 624.7 610.9 L623.6 611.2 Q621.1 611.6 618.6 611.6Z"/>
<path style="stroke-width:.9" class="s" d="M602.5 609.1 L602.5 609.1 Q600.0 609.0 600.0 606.5 L600.0 584.3 Q600.0 581.8 602.5 581.8 L611.4 581.8 Q613.9 581.8 615.4 583.1 L615.4 583.1 Q616.9 584.4 619.4 584.8 L619.4 584.8 Q621.8 585.3 623.9 584.0 L624.0 583.9 Q626.2 582.6 627.9 582.6 L627.9 582.6 Q629.7 582.6 631.8 583.9 L635.1 585.9 Q637.3 587.1 637.8 589.6 L638.5 593.6 Q639.0 596.0 637.6 598.1 L636.9 599.2 Q635.5 601.3 633.5 602.8 L628.6 606.8 Q626.6 608.3 624.2 608.8 L623.7 608.9 Q621.2 609.3 618.8 609.3Z"/>
<path style="stroke-width:1.5;stroke:#444" class="s" d="M587.9 611.3 L587.9 611.3 Q590.4 611.3 590.4 608.8 L590.4 582.8 Q590.4 580.3 587.9 580.3 L577.2 580.3 Q574.7 580.3 573.0 581.8 L573.0 581.8 Q571.2 583.3 568.7 583.7 L568.2 583.9 Q565.7 584.3 563.6 583.0 L562.8 582.6 Q560.7 581.3 558.7 581.3 L558.7 581.3 Q556.7 581.3 554.5 582.6 L550.3 585.1 Q548.1 586.4 547.6 588.9 L546.6 594.0 Q546.1 596.5 547.5 598.6 L548.7 600.4 Q550.1 602.5 552.1 604.1 L558.2 608.9 Q560.2 610.5 562.7 610.9 L563.8 611.2 Q566.3 611.6 568.8 611.6Z"/>
<path style="stroke-width:.9" class="s" d="M584.9 609.1 L584.9 609.1 Q587.4 609.0 587.4 606.5 L587.4 584.3 Q587.4 581.8 584.9 581.8 L576.0 581.8 Q573.5 581.8 572.0 583.1 L572.0 583.1 Q570.5 584.4 568.0 584.8 L568.0 584.8 Q565.6 585.3 563.5 584.0 L563.4 583.9 Q561.2 582.6 559.5 582.6 L559.5 582.6 Q557.7 582.6 555.6 583.9 L552.3 585.9 Q550.1 587.1 549.6 589.6 L548.9 593.6 Q548.4 596.0 549.8 598.1 L550.5 599.2 Q551.9 601.3 553.9 602.8 L558.8 606.8 Q560.8 608.3 563.2 608.8 L563.7 608.9 Q566.2 609.3 568.6 609.3Z"/>
<path style="stroke-width:1.5;stroke:#444" class="s" d="M599.5 692.3 L599.5 692.3 Q597.0 692.3 597.0 694.8 L597.0 720.8 Q597.0 723.3 599.5 723.3 L610.2 723.3 Q612.7 723.3 614.5 721.8 L614.5 721.8 Q616.2 720.3 618.7 719.9 L619.2 719.7 Q621.7 719.3 623.8 720.6 L624.6 721.0 Q626.7 722.3 628.7 722.3 L628.7 722.3 Q630.7 722.3 632.9 721.0 L637.1 718.5 Q639.3 717.2 639.8 714.7 L640.8 709.6 Q641.3 707.1 639.9 705.0 L638.7 703.2 Q637.3 701.1 635.3 699.5 L629.2 694.7 Q627.2 693.1 624.7 692.7 L623.6 692.4 Q621.1 692.0 618.6 692.0Z"/>
<path style="stroke-width:.9" class="s" d="M602.5 694.5 L602.5 694.5 Q600.0 694.6 600.0 697.1 L600.0 719.3 Q600.0 721.8 602.5 721.8 L611.4 721.8 Q613.9 721.8 615.4 720.5 L615.4 720.5 Q616.9 719.2 619.4 718.8 L619.4 718.8 Q621.8 718.3 623.9 719.6 L624.0 719.7 Q626.2 721.0 627.9 721.0 L627.9 721.0 Q629.7 721.0 631.8 719.7 L635.1 717.7 Q637.3 716.5 637.8 714.0 L638.5 710.0 Q639.0 707.6 637.6 705.5 L636.9 704.4 Q635.5 702.3 633.5 700.8 L628.6 696.8 Q626.6 695.3 624.2 694.8 L623.7 694.7 Q621.2 694.3 618.8 694.3Z"/>
<path style="stroke-width:1.5;stroke:#444" class="s" d="M587.9 692.3 L587.9 692.3 Q590.4 692.3 590.4 694.8 L590.4 720.8 Q590.4 723.3 587.9 723.3 L577.2 723.3 Q574.7 723.3 573.0 721.8 L573.0 721.8 Q571.2 720.3 568.7 719.9 L568.2 719.7 Q565.7 719.3 563.6 720.6 L562.8 721.0 Q560.7 722.3 558.7 722.3 L558.7 722.3 Q556.7 722.3 554.5 721.0 L550.3 718.5 Q548.1 717.2 547.6 714.7 L546.6 709.6 Q546.1 707.1 547.5 705.0 L548.7 703.2 Q550.1 701.1 552.1 699.5 L558.2 694.7 Q560.2 693.1 562.7 692.7 L563.8 692.4 Q566.3 692.0 568.8 692.0Z"/>
<path style="stroke-width:.9" class="s" d="M584.9 694.5 L584.9 694.5 Q587.4 694.6 587.4 697.1 L587.4 719.3 Q587.4 721.8 584.9 721.8 L576.0 721.8 Q573.5 721.8 572.0 720.5 L572.0 720.5 Q570.5 719.2 568.0 718.8 L568.0 718.8 Q565.6 718.3 563.5 719.6 L563.4 719.7 Q561.2 721.0 559.5 721.0 L559.5 721.0 Q557.7 721.0 555.6 719.7 L552.3 717.7 Q550.1 716.5 549.6 714.0 L548.9 710.0 Q548.4 707.6 549.8 705.5 L550.5 704.4 Q551.9 702.3 553.9 700.8 L558.8 696.8 Q560.8 695.3 563.2 694.8 L563.7 694.7 Q566.2 694.3 568.6 694.3Z"/>
<path style="stroke-width:1.5;stroke:#444" class="s" d="M634.2 646.0 L634.2 646.0 Q634.2 648.5 636.7 648.5 L662.7 648.5 Q665.2 648.5 665.2 646.0 L665.2 635.3 Q665.2 632.8 663.7 631.0 L663.7 631.0 Q662.2 629.3 661.8 626.8 L661.6 626.3 Q661.2 623.8 662.5 621.7 L662.9 620.9 Q664.2 618.8 664.2 616.8 L664.2 616.8 Q664.2 614.8 662.9 612.6 L660.4 608.4 Q659.1 606.2 656.6 605.7 L651.5 604.7 Q649.0 604.2 646.9 605.6 L645.1 606.8 Q643.0 608.2 641.4 610.2 L636.6 616.3 Q635.0 618.3 634.6 620.8 L634.3 621.9 Q633.9 624.4 633.9 626.9Z"/>
<path style="stroke-width:.9" class="s" d="M636.4 643.0 L636.4 643.0 Q636.5 645.5 639.0 645.5 L661.2 645.5 Q663.7 645.5 663.7 643.0 L663.7 634.1 Q663.7 631.6 662.4 630.1 L662.4 630.1 Q661.1 628.6 660.7 626.1 L660.7 626.1 Q660.2 623.7 661.5 621.6 L661.6 621.5 Q662.9 619.3 662.9 617.6 L662.9 617.6 Q662.9 615.8 661.6 613.7 L659.6 610.4 Q658.4 608.2 655.9 607.7 L651.9 607.0 Q649.5 606.5 647.4 607.9 L646.3 608.6 Q644.2 610.0 642.7 612.0 L638.7 616.9 Q637.2 618.9 636.7 621.3 L636.6 621.8 Q636.2 624.2 636.2 626.7Z"/>
<path style="stroke-width:1.5;stroke:#444" class="s" d="M553.2 646.0 L553.2 646.0 Q553.2 648.5 550.7 648.5 L524.7 648.5 Q522.2 648.5 522.2 646.0 L522.2 635.3 Q522.2 632.8 523.7 631.0 L523.7 631.0 Q525.2 629.3 525.6 626.8 L525.8 626.3 Q526.2 623.8 524.9 621.7 L524.5 620.9 Q523.2 618.8 523.2 616.8 L523.2 616.8 Q523.2 614.8 524.5 612.6 L527.0 608.4 Q528.3 606.2 530.8 605.7 L535.9 604.7 Q538.4 604.2 540.5 605.6 L542.3 606.8 Q544.4 608.2 546.0 610.2 L550.8 616.3 Q552.4 618.3 552.8 620.8 L553.1 621.9 Q553.5 624.4 553.5 626.9Z"/>
<path style="stroke-width:.9" class="s" d="M551.0 643.0 L551.0 643.0 Q550.9 645.5 548.4 645.5 L526.2 645.5 Q523.7 645.5 523.7 643.0 L523.7 634.1 Q523.7 631.6 525.0 630.1 L525.0 630.1 Q526.3 628.6 526.7 626.1 L526.7 626.1 Q527.2 623.7 525.9 621.6 L525.8 621.5 Q524.5 619.3 524.5 617.6 L524.5 617.6 Q524.5 615.8 525.8 613.7 L527.8 610.4 Q529.0 608.2 531.5 607.7 L535.5 607.0 Q537.9 606.5 540.0 607.9 L541.1 608.6 Q543.2 610.0 544.7 612.0 L548.7 616.9 Q550.2 618.9 550.7 621.3 L550.8 621.8 Q551.2 624.2 551.2 626.7Z"/>
<path style="stroke-width:1.5;stroke:#444" class="s" d="M634.2 657.6 L634.2 657.6 Q634.2 655.1 636.7 655.1 L662.7 655.1 Q665.2 655.1 665.2 657.6 L665.2 668.3 Q665.2 670.8 663.7 672.5 L663.7 672.5 Q662.2 674.3 661.8 676.8 L661.6 677.3 Q661.2 679.8 662.5 681.9 L662.9 682.7 Q664.2 684.8 664.2 686.8 L664.2 686.8 Q664.2 688.8 662.9 691.0 L660.4 695.2 Q659.1 697.4 656.6 697.9 L651.5 698.9 Q649.0 699.4 646.9 698.0 L645.1 696.8 Q643.0 695.4 641.4 693.4 L636.6 687.3 Q635.0 685.3 634.6 682.8 L634.3 681.7 Q633.9 679.2 633.9 676.7Z"/>
<path style="stroke-width:.9" class="s" d="M636.4 660.6 L636.4 660.6 Q636.5 658.1 639.0 658.1 L661.2 658.1 Q663.7 658.1 663.7 660.6 L663.7 669.5 Q663.7 672.0 662.4 673.5 L662.4 673.5 Q661.1 675.0 660.7 677.5 L660.7 677.5 Q660.2 679.9 661.5 682.0 L661.6 682.1 Q662.9 684.3 662.9 686.0 L662.9 686.0 Q662.9 687.8 661.6 689.9 L659.6 693.2 Q658.4 695.4 655.9 695.9 L651.9 696.6 Q649.5 697.1 647.4 695.7 L646.3 695.0 Q644.2 693.6 642.7 691.6 L638.7 686.7 Q637.2 684.7 636.7 682.3 L636.6 681.8 Q636.2 679.3 636.2 676.9Z"/>
<path style="stroke-width:1.5;stroke:#444" class="s" d="M553.2 657.6 L553.2 657.6 Q553.2 655.1 550.7 655.1 L524.7 655.1 Q522.2 655.1 522.2 657.6 L522.2 668.3 Q522.2 670.8 523.7 672.5 L523.7 672.5 Q525.2 674.3 525.6 676.8 L525.8 677.3 Q526.2 679.8 524.9 681.9 L524.5 682.7 Q523.2 684.8 523.2 686.8 L523.2 686.8 Q523.2 688.8 524.5 691.0 L527.0 695.2 Q528.3 697.4 530.8 697.9 L535.9 698.9 Q538.4 699.4 540.5 698.0 L542.3 696.8 Q544.4 695.4 546.0 693.4 L550.8 687.3 Q552.4 685.3 552.8 682.8 L553.1 681.7 Q553.5 679.2 553.5 676.7Z"/>
<path style="stroke-width:.9" class="s" d="M551.0 660.6 L551.0 660.6 Q550.9 658.1 548.4 658.1 L526.2 658.1 Q523.7 658.1 523.7 660.6 L523.7 669.5 Q523.7 672.0 525.0 673.5 L525.0 673.5 Q526.3 675.0 526.7 677.5 L526.7 677.5 Q527.2 679.9 525.9 682.0 L525.8 682.1 Q524.5 684.3 524.5 686.0 L524.5 686.0 Q524.5 687.8 525.8 689.9 L527.8 693.2 Q529.0 695.4 531.5 695.9 L535.5 696.6 Q537.9 697.1 540.0 695.7 L541.1 695.0 Q543.2 693.6 544.7 691.6 L548.7 686.7 Q550.2 684.7 550.7 682.3 L550.8 681.8 Q551.2 679.3 551.2 676.9Z"/>
<circle style="stroke-width:2;stroke:#444" class="s" cx="593.7" cy="651.8" r="37.2"/>
<circle class="t" cx="593.7" cy="651.8" r="34.3"/>
<circle style="stroke-width:1.3" class="s" cx="593.7" cy="651.8" r="27.3"/>
<circle class="s" cx="593.7" cy="651.8" r="23.5"/>
<circle style="stroke-width:.9" class="c" cx="593.7" cy="651.8" r="52.8"/>
<circle style="stroke-width:.9" class="c" cx="593.7" cy="651.8" r="80.7"/>
<path style="stroke-width:1.2" class="s" d="M593.7 633.3 L612.2 651.8 L593.7 670.3 L575.2 651.8Z"/>
<path stroke="#444" stroke-width=".7" fill="none" d="M593.7 651.8 L593.7 634.8M593.7 651.8 L597.0 635.1M593.7 651.8 L600.2 636.1M593.7 651.8 L603.1 637.7M593.7 651.8 L605.7 639.8M593.7 651.8 L607.8 642.4M593.7 651.8 L609.4 645.3M593.7 651.8 L610.4 648.5M593.7 651.8 L610.7 651.8M593.7 651.8 L610.4 655.1M593.7 651.8 L609.4 658.3M593.7 651.8 L607.8 661.2M593.7 651.8 L605.7 663.8M593.7 651.8 L603.1 665.9M593.7 651.8 L600.2 667.5M593.7 651.8 L597.0 668.5M593.7 651.8 L593.7 668.8M593.7 651.8 L590.4 668.5M593.7 651.8 L587.2 667.5M593.7 651.8 L584.3 665.9M593.7 651.8 L581.7 663.8M593.7 651.8 L579.6 661.2M593.7 651.8 L578.0 658.3M593.7 651.8 L577.0 655.1M593.7 651.8 L576.7 651.8M593.7 651.8 L577.0 648.5M593.7 651.8 L578.0 645.3M593.7 651.8 L579.6 642.4M593.7 651.8 L581.7 639.8M593.7 651.8 L584.3 637.7M593.7 651.8 L587.2 636.1M593.7 651.8 L590.4 635.1"/>
<circle fill="#333" cx="593.7" cy="651.8" r="3.2"/>
<path stroke="#555" stroke-width=".9" fill="none" d="M600.6 635.2 L607.9 617.6M606.4 639.1 L619.9 625.6M610.3 644.9 L627.9 637.6M610.3 658.7 L627.9 666.0M606.4 664.5 L619.9 678.0M600.6 668.4 L607.9 686.0M586.8 668.4 L579.5 686.0M581.0 664.5 L567.5 678.0M577.1 658.7 L559.5 666.0M577.1 644.9 L559.5 637.6M581.0 639.1 L567.5 625.6M586.8 635.2 L579.5 617.6"/>
<path style="stroke-width:.9" class="c" d="M597.5 642.6 L630.1 564.0M600.8 644.7 L660.9 584.6M602.9 648.0 L681.5 615.4M602.9 655.6 L681.5 688.2M600.8 658.9 L660.9 719.0M597.5 661.0 L630.1 739.6M589.9 661.0 L557.3 739.6M586.6 658.9 L526.5 719.0M584.5 655.6 L505.9 688.2M584.5 648.0 L505.9 615.4M586.6 644.7 L526.5 584.6M589.9 642.6 L557.3 564.0"/>
<circle style="stroke-width:1.2" class="w" cx="624.6" cy="577.2" r="5.3"/>
<path style="stroke:#444" class="t" d="M619.6 572.2L629.6 582.2M629.6 572.2L619.6 582.2"/>
<circle style="stroke-width:1.2" class="w" cx="668.3" cy="620.9" r="5.3"/>
<path style="stroke:#444" class="t" d="M663.3 615.9L673.3 625.9M673.3 615.9L663.3 625.9"/>
<circle style="stroke-width:1.2" class="w" cx="668.3" cy="682.7" r="5.3"/>
<path style="stroke:#444" class="t" d="M663.3 677.7L673.3 687.7M673.3 677.7L663.3 687.7"/>
<circle style="stroke-width:1.2" class="w" cx="624.6" cy="726.4" r="5.3"/>
<path style="stroke:#444" class="t" d="M619.6 721.4L629.6 731.4M629.6 721.4L619.6 731.4"/>
<circle style="stroke-width:1.2" class="w" cx="562.8" cy="726.4" r="5.3"/>
<path style="stroke:#444" class="t" d="M557.8 721.4L567.8 731.4M567.8 721.4L557.8 731.4"/>
<circle style="stroke-width:1.2" class="w" cx="519.1" cy="682.7" r="5.3"/>
<path style="stroke:#444" class="t" d="M514.1 677.7L524.1 687.7M524.1 677.7L514.1 687.7"/>
<circle style="stroke-width:1.2" class="w" cx="519.1" cy="620.9" r="5.3"/>
<path style="stroke:#444" class="t" d="M514.1 615.9L524.1 625.9M524.1 615.9L514.1 625.9"/>
<circle style="stroke-width:1.2" class="w" cx="562.8" cy="577.2" r="5.3"/>
<path style="stroke:#444" class="t" d="M557.8 572.2L567.8 582.2M567.8 572.2L557.8 582.2"/>
<circle style="stroke-width:1.2" class="w" cx="631.0" cy="614.5" r="6.5"/>
<circle class="t" cx="631.0" cy="614.5" r="8"/>
<path style="stroke:#444" class="t" d="M626.4 609.9L635.6 619.1M635.6 609.9L626.4 619.1"/>
<circle style="stroke-width:1.2" class="w" cx="631.0" cy="689.1" r="6.5"/>
<circle class="t" cx="631.0" cy="689.1" r="8"/>
<path style="stroke:#444" class="t" d="M626.4 684.5L635.6 693.7M635.6 684.5L626.4 693.7"/>
<circle style="stroke-width:1.2" class="w" cx="556.4" cy="689.1" r="6.5"/>
<circle class="t" cx="556.4" cy="689.1" r="8"/>
<path style="stroke:#444" class="t" d="M551.8 684.5L561.0 693.7M561.0 684.5L551.8 693.7"/>
<circle style="stroke-width:1.2" class="w" cx="556.4" cy="614.5" r="6.5"/>
<circle class="t" cx="556.4" cy="614.5" r="8"/>
<path style="stroke:#444" class="t" d="M551.8 609.9L561.0 619.1M561.0 609.9L551.8 619.1"/>
<path class="c" d="M399.8 651.7H712M593.7 553V749"/>
<path style="stroke-width:1.3" class="k" d="M637.7 649.8L665.7 649.8M637.7 653.8L665.7 653.8"/>
<path style="stroke-width:1.3" class="k" d="M549.7 649.8L521.7 649.8M549.7 653.8L521.7 653.8"/>
<path class="s" d="M591.7 606.8L591.7 578.8M595.7 606.8L595.7 578.8"/>
<path class="s" d="M591.7 696.8L591.7 724.8M595.7 696.8L595.7 724.8"/>
<path class="d" d="M691.0 584.5 A118.3 118.3 0 0 1 691.0 719.1"/>
<path class="d" d="M673.2 618.9 L706.4 605.1"/>
<path class="d" d="M673.2 684.7 L706.4 698.5"/>
<path fill="#555" d="M703.0 606.5 L697.6 598.8 L700.6 597.4Z"/>
<path fill="#555" d="M712.0 651.8 L713.3 661.1 L709.9 661.0Z"/>
<path fill="#555" d="M712.0 651.8 L709.9 642.6 L713.3 642.5Z"/>
<path fill="#555" d="M703.0 697.1 L700.6 706.2 L697.6 704.8Z"/>
<text class="tx" style="font-size:16.5px" transform="translate(714.5 629.7) rotate(78.75)" text-anchor="middle">22.5°</text>
<text class="tx" style="font-size:16.5px" transform="translate(714.2 680.9) rotate(101.25)" text-anchor="middle">22.5°</text>
<path class="d" d="M627 604L675 551.8M637.5 623L694 571.7M656 535.5L709.7 589.2"/>
<path fill="#555" d="M670.5 549.5L663 546L666.5 542.5Z"/><path fill="#555" d="M702.5 582L696 575.2L699.5 571.7Z" transform="rotate(180 699.5 578)"/>
<text class="tx" transform="translate(687.7 560.1) rotate(40) scale(.9 1)" text-anchor="middle">G</text>
<path style="stroke:#555" class="d" d="M610.3 545L574.8 775M555 775H574.8"/>
<path fill="#444" d="M607.6 563L605.3 554.5L609.8 555.2Z"/><path fill="#444" d="M580 740.5L582.3 749L577.8 748.3Z"/>
<text class="tx" style="font-family:&quot;Liberation Serif&quot;,serif;font-size:17.7px" transform="translate(562.25 772.4) scale(.85 1)" text-anchor="middle">ΦI</text>
<path style="stroke:#555" class="d" d="M667.2 785.2H677.8M667.2 785.2L607.1 700.9"/>
<path fill="#444" d="M620.5 718.4L613.6 713.3L617.3 710.7Z"/><path fill="#444" d="M630.8 733L637.7 738.1L634 740.7Z"/>
<text class="tx" transform="translate(673.2 782.1) scale(.56 1)" text-anchor="middle">J</text>
</g>
</svg>
</body></html>
